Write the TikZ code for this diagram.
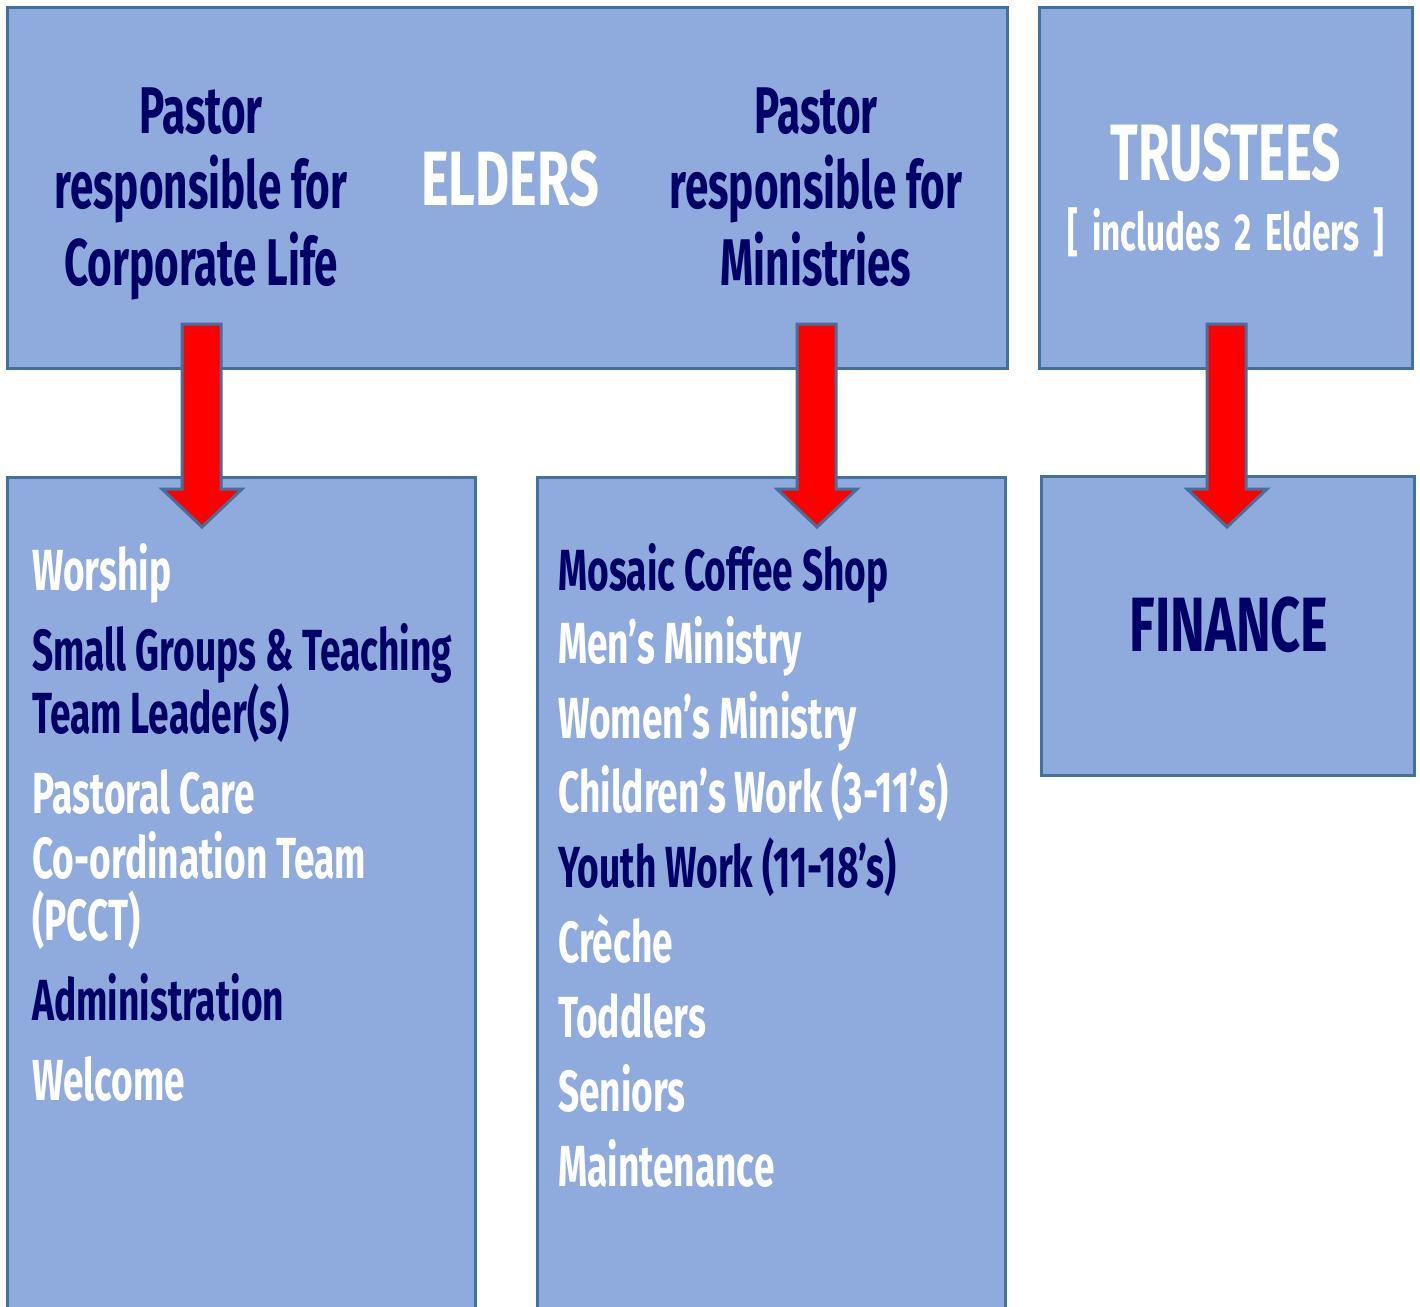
\documentclass[tikz,border=0pt]{standalone}
\usepackage{fontspec}
\setmainfont{Fira Sans}[FakeStretch=0.64]
\newfontfamily\capsfont{Fira Sans}[FakeStretch=0.68]
\definecolor{boxfill}{HTML}{8FAADC}
\definecolor{boxline}{HTML}{41719C}
\definecolor{navy}{HTML}{000066}
\definecolor{arrowred}{HTML}{FF0000}
\tikzset{
  panel/.style={draw=boxline, fill=boxfill, line width=3pt},
  downarrow/.style={draw=boxline, fill=arrowred, line width=3pt, line join=miter},
  ln/.style={anchor=base west, inner sep=0pt, font=\fontsize{58}{58}\selectfont\bfseries},
  hd/.style={anchor=base, inner sep=0pt, text=navy, font=\fontsize{66}{66}\selectfont\bfseries},
  wt/.style={text=white},
  nv/.style={text=navy},
}
\begin{document}
\begin{tikzpicture}[x=1pt,y=-1pt]
\useasboundingbox (0,0) rectangle (1420,1306);
\clip (0,0) rectangle (1420,1306);
% boxes
\draw[panel] (7,8) rectangle (1007,368);
\draw[panel] (1039,8) rectangle (1412,368);
\draw[panel] (7,477) rectangle (475,1320);
\draw[panel] (537,477) rectangle (1005,1320);
\draw[panel] (1041,476) rectangle (1414,775);
% arrows
\foreach \cx/\nm in {202/a1, 817/a2, 1227/a3}{
  \draw[downarrow] (\cx-20,324) -- (\cx+19,324) -- (\cx+19,489) -- (\cx+40,489)
     -- (\cx,527) -- (\cx-40,489) -- (\cx-20,489) -- cycle;
}
% header texts
\node[hd] (p1a) at (201,133) {Pastor};
\node[hd] (p1b) at (201,208) {responsible for};
\node[hd] (p1c) at (201,285) {Corporate Life};
\node[hd] (p2a) at (816,133) {Pastor};
\node[hd] (p2b) at (816,208) {responsible for};
\node[hd] (p2c) at (816,285) {Ministries};
\node[anchor=base, inner sep=0pt, text=white, font=\capsfont\fontsize{77}{77}\selectfont\bfseries] (eld) at (510,205) {ELDERS};
\node[anchor=base, inner sep=0pt, text=white, font=\fontsize{80}{80}\selectfont\bfseries] (tru) at (1226,180) {TRUSTEES};
\node[anchor=base, inner sep=0pt, text=white, font=\fontsize{52}{52}\selectfont\bfseries] (inc) at (1226,250) {[\hspace{14pt}includes\hspace{14pt}2\hspace{14pt}Elders\hspace{14pt}]};
\node[anchor=base, inner sep=0pt, text=navy, font=\capsfont\fontsize{77}{77}\selectfont\bfseries] (fin) at (1229,651) {FINANCE};
% left list
\node[ln,wt] (l1) at (32,590) {Worship};
\node[ln,nv] (l2) at (32,670) {Small Groups \& Teaching};
\node[ln,nv] (l3) at (32,733) {Team Leader(s)};
\node[ln,wt] (l4) at (32,813) {Pastoral Care};
\node[ln,wt] (l5) at (32,878) {Co-ordination Team};
\node[ln,wt] (l6) at (32,940) {(PCCT)};
\node[ln,nv] (l7) at (32,1020) {Administration};
\node[ln,wt] (l8) at (32,1100) {Welcome};
% middle list
\node[ln,nv] (m1) at (558,590) {Mosaic Coffee Shop};
\node[ln,wt] (m2) at (558,663) {Men’s Ministry};
\node[ln,wt] (m3) at (558,738) {Women’s Ministry};
\node[ln,wt] (m4) at (558,812) {Children’s Work (3-11’s)};
\node[ln,nv] (m5) at (558,887) {Youth Work (11-18’s)};
\node[ln,wt] (m6) at (558,962) {Crèche};
\node[ln,wt] (m7) at (558,1037) {Toddlers};
\node[ln,wt] (m8) at (558,1111) {Seniors};
\node[ln,wt] (m9) at (558,1186) {Maintenance};
\end{tikzpicture}
\end{document}
